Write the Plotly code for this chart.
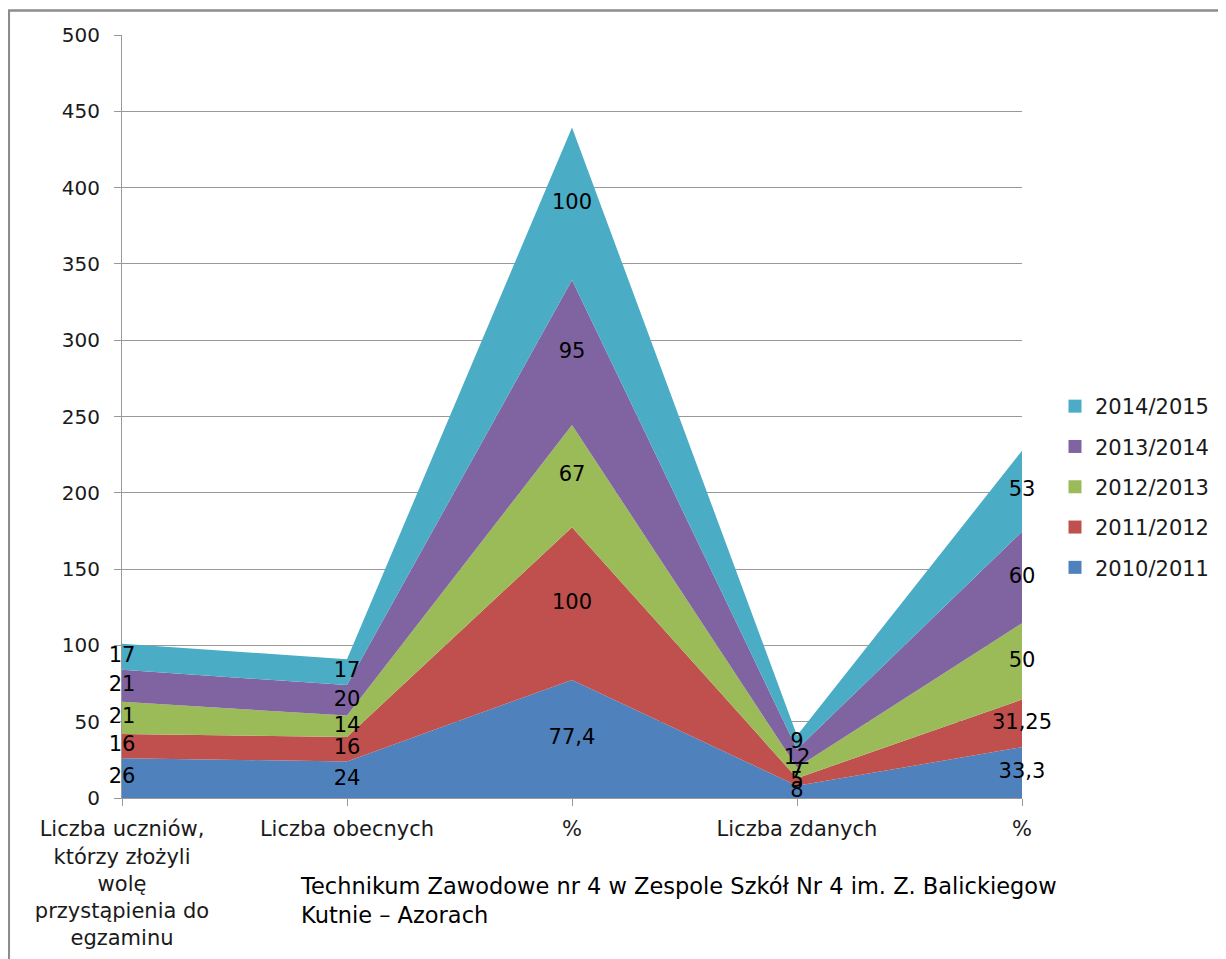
import plotly.graph_objects as go

categories = ["Liczba uczniów,<br>którzy złożyli<br>wolę<br>przystąpienia do<br>egzaminu",
              "Liczba obecnych", "%", "Liczba zdanych", "%"]
series_names = ["2010/2011", "2011/2012", "2012/2013", "2013/2014", "2014/2015"]
v_2010 = [26, 24, 77.4, 8, 33.3]
v_2011 = [16, 16, 100, 5, 31.25]
v_2012 = [21, 14, 67, 7, 50]
v_2013 = [21, 20, 95, 12, 60]
v_2014 = [17, 17, 100, 9, 53]
colors = ["#4F81BD", "#C0504D", "#9BBB59", "#8064A2", "#4BACC6"]
y_ticks = [0, 50, 100, 150, 200, 250, 300, 350, 400, 450, 500]
caption = "Technikum Zawodowe nr 4 w Zespole Szkół Nr 4 im. Z. Balickiegow<br>Kutnie – Azorach"

series = [v_2010, v_2011, v_2012, v_2013, v_2014]
x = list(range(len(categories)))
FONT = "DejaVu Sans"

# page body has an 8px margin, so figure coords = screen coords - 8
L, T = 114, 27
PW, PH = 900, 763
W, H = 1226, 959
R = W - L - PW
B = H - T - PH


def px(sx):
    return (sx - 8 - L) / PW


def py(sy):
    return 1 - (sy - 8 - T) / PH


fig = go.Figure()
for name, vals, col in zip(series_names, series, colors):
    fig.add_trace(go.Scatter(x=x, y=vals, name=name, stackgroup="one", mode="none",
                             fillcolor=col, showlegend=False, hoverinfo="skip"))

# data labels at mid of each band
base = [0] * len(x)
for vals in series:
    mids = [b + v / 2 for b, v in zip(base, vals)]
    txt = [("%g" % v).replace(".", ",") for v in vals]
    fig.add_trace(go.Scatter(x=x, y=mids, mode="text", text=txt, showlegend=False,
                             textfont=dict(family=FONT, size=21, color="#000000"),
                             cliponaxis=False, hoverinfo="skip"))
    base = [b + v for b, v in zip(base, vals)]

# legend entries (squares), newest on top
for name, col in reversed(list(zip(series_names, colors))):
    fig.add_trace(go.Scatter(x=[None], y=[None], mode="markers", name=name,
                             legendgroup=name,
                             marker=dict(symbol="square", size=13, color=col)))

fig.update_layout(
    width=W, height=H,
    margin=dict(l=L, r=R, t=T, b=B),
    paper_bgcolor="white", plot_bgcolor="white",
    font=dict(family=FONT, size=20, color="#1a1a1a"),
    showlegend=True,
    legend=dict(x=px(1055), y=py(386), xanchor="left", yanchor="top",
                traceorder="grouped", tracegroupgap=10,
                font=dict(family=FONT, size=21, color="#1a1a1a"),
                itemwidth=30),
    xaxis=dict(range=[0, 4], tickmode="array", tickvals=x, ticktext=categories,
               showgrid=False, zeroline=False, showline=True, linecolor="#999999",
               linewidth=1, ticks="outside", ticklen=7, tickcolor="#999999",
               ticklabelstandoff=5,
               tickfont=dict(family=FONT, size=21, color="#1a1a1a")),
    yaxis=dict(range=[0, 500], tickmode="array", tickvals=y_ticks,
               showgrid=True, gridcolor="#999999", gridwidth=1, zeroline=False,
               showline=True, linecolor="#999999", linewidth=1,
               ticks="outside", ticklen=7, tickcolor="#999999",
               ticklabelstandoff=10,
               tickfont=dict(family=FONT, size=20, color="#1a1a1a")),
    annotations=[dict(text=caption, xref="paper", yref="paper",
                      x=px(298), y=py(871),
                      xanchor="left", yanchor="top", align="left", showarrow=False,
                      font=dict(family=FONT, size=22.5, color="#000000"))],
    shapes=[dict(type="rect", xref="paper", yref="paper",
                 x0=px(8.8), x1=1.3, y0=-0.3, y1=py(10.5),
                 line=dict(color="#8c8c8c", width=2.5), fillcolor="rgba(0,0,0,0)",
                 layer="below")],
)

fig.write_html("out.html")
